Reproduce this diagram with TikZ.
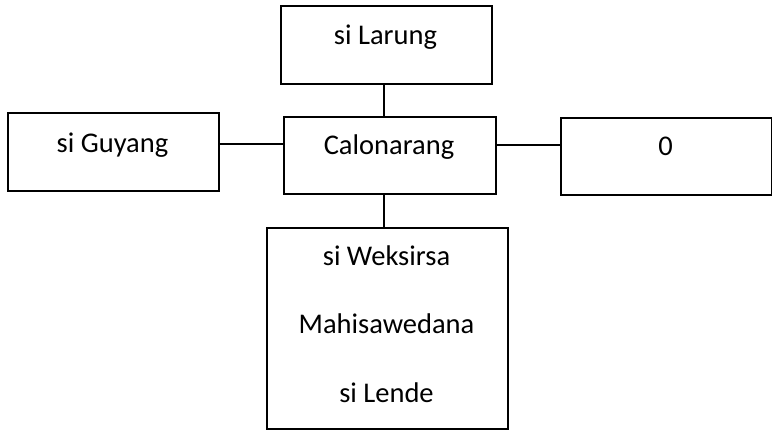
\documentclass[tikz,border=0pt]{standalone}
\usepackage{fontspec}
\setmainfont{Carlito}
\begin{document}
\begin{tikzpicture}[x=1pt,y=-1pt,
  box/.style={draw=black, line width=1.8pt, rectangle, inner sep=0pt, anchor=north west},
  lbl/.style={font=\fontsize{28.5}{34}\selectfont, anchor=base, inner sep=0pt},
  link/.style={draw=black, line width=1.8pt}]
\useasboundingbox (0,0) rectangle (772,429);
\fill[white] (0,0) rectangle (772,429);

% frames
\node[box, minimum width=211pt, minimum height=78pt] (larung) at (280,5) {};
\node[box, minimum width=211pt, minimum height=78pt] (guyang) at (7,112) {};
\node[box, minimum width=212pt, minimum height=77pt] (calon) at (283,116) {};
\node[box, minimum width=211pt, minimum height=77pt] (zero) at (560,117) {};
\node[box, minimum width=241pt, minimum height=201pt] (lower) at (266,227) {};

% captions
\node[lbl] (tlarung) at (385.5,44) {si Larung};
\node[lbl] (tguyang) at (112.5,152) {si Guyang};
\node[lbl] (tcalon) at (389,154) {Calonarang};
\node[lbl] (tzero) at (665.5,155) {0};
\node[lbl] (tweks) at (386.5,265) {si Weksirsa};
\node[lbl] (tmahi) at (386.5,333) {Mahisawedana};
\node[lbl] (tlende) at (386.5,402) {si Lende};

% connector guides
\coordinate (vx) at (384,0);
\coordinate (hl) at (0,144);
\coordinate (hr) at (0,145);

\draw[link] (larung.south -| vx) -- (calon.north -| vx);
\draw[link] (calon.south -| vx) -- (lower.north -| vx);
\draw[link] (guyang.east |- hl) -- (calon.west |- hl);
\draw[link] (calon.east |- hr) -- (zero.west |- hr);
\end{tikzpicture}
\end{document}
